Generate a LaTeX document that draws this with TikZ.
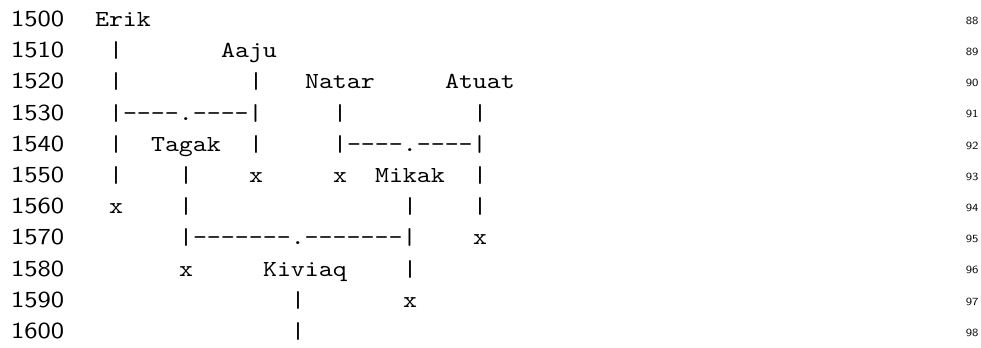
\documentclass[tikz,border=0pt]{standalone}
\usepackage{fontspec}
\newfontfamily\ttw{lmmono10-regular.otf}[FakeStretch=1.16]
\newfontfamily\sfw{lmsans10-regular.otf}[FakeStretch=1.16]
\newcommand\tok[4]{\node[tt] (#1) at ({94.5+14*#2},{26.5+31.2*#3}) {#4};}
\newcommand\yr[3]{%
  \node[yearnum] (y#1) at (10.5,{26.5+31.2*#2}) {#1};%
  \node[linenum] (n#3) at (979,{24.3+31.2*#2}) {#3};}
\begin{document}
\begin{tikzpicture}[x=0.375pt,y=-0.375pt,
  tt/.style={inner sep=0pt,anchor=base west,font=\ttw\fontsize{8.6pt}{10pt}\selectfont},
  yearnum/.style={inner sep=0pt,anchor=base west,font=\sfw\fontsize{8.6pt}{10pt}\selectfont},
  linenum/.style={inner sep=0pt,anchor=base east,font=\sfw\fontsize{4.1pt}{5pt}\selectfont}]
\useasboundingbox (0,0) rectangle (981,348);
\yr{1500}{0}{88}
\yr{1510}{1}{89}
\yr{1520}{2}{90}
\yr{1530}{3}{91}
\yr{1540}{4}{92}
\yr{1550}{5}{93}
\yr{1560}{6}{94}
\yr{1570}{7}{95}
\yr{1580}{8}{96}
\yr{1590}{9}{97}
\yr{1600}{10}{98}
% row 0
\tok{erik}{0}{0}{Erik}
% row 1
\tok{b11}{1}{1}{|}
\tok{aaju}{9}{1}{Aaju}
% row 2
\tok{b21}{1}{2}{|}
\tok{b22}{11}{2}{|}
\tok{natar}{15}{2}{Natar}
\tok{atuat}{25}{2}{Atuat}
% row 3
\tok{j31}{1}{3}{|-{}-{}-{}-.-{}-{}-{}-|}
\tok{b32}{17}{3}{|}
\tok{b33}{27}{3}{|}
% row 4
\tok{b41}{1}{4}{|}
\tok{tagak}{4}{4}{Tagak}
\tok{b42}{11}{4}{|}
\tok{j43}{17}{4}{|-{}-{}-{}-.-{}-{}-{}-|}
% row 5
\tok{b51}{1}{5}{|}
\tok{b52}{6}{5}{|}
\tok{x51}{11}{5}{x}
\tok{x52}{17}{5}{x}
\tok{mikak}{20}{5}{Mikak}
\tok{b53}{27}{5}{|}
% row 6
\tok{x61}{1}{6}{x}
\tok{b61}{6}{6}{|}
\tok{b62}{22}{6}{|}
\tok{b63}{27}{6}{|}
% row 7
\tok{j71}{6}{7}{|-{}-{}-{}-{}-{}-{}-.-{}-{}-{}-{}-{}-{}-|}
\tok{x71}{27}{7}{x}
% row 8
\tok{x81}{6}{8}{x}
\tok{kiviaq}{12}{8}{Kiviaq}
\tok{b81}{22}{8}{|}
% row 9
\tok{b91}{14}{9}{|}
\tok{x91}{22}{9}{x}
% row 10
\tok{b101}{14}{10}{|}
\end{tikzpicture}
\end{document}
